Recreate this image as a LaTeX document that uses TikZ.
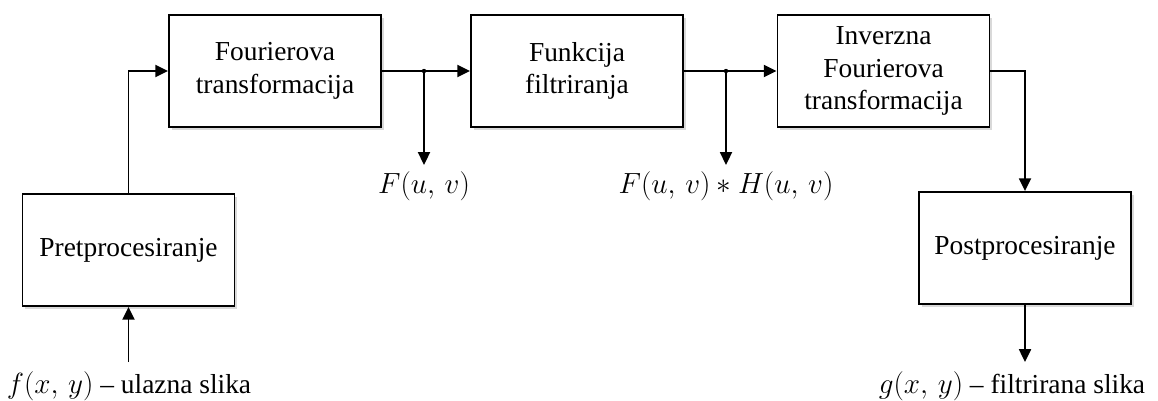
\documentclass[tikz,border=0pt]{standalone}
\usepackage{fontspec}
\setmainfont{Liberation Serif}
\usetikzlibrary{arrows.meta,shadows}

\tikzset{
	block/.style={draw, line width=1.3pt, fill=white, align=center,
		minimum width=5.3cm, minimum height=2.8cm,
		font=\fontsize{19.5}{23}\selectfont,
		drop shadow={shadow xshift=0.07cm, shadow yshift=-0.07cm, opacity=0.3}},
	flow/.style={line width=1.3pt, -{Triangle[length=0.32cm,width=0.3cm]}},
	signal/.style={font=\fontsize{19.5}{23}\selectfont, inner sep=1pt},
}

\begin{document}
\begin{tikzpicture}[x=0.025cm, y=-0.025cm]

	\useasboundingbox (0,0) rectangle (1158,401);

	% Blocks
	\node[block] (pre)     at (128.5,250) {Pretprocesiranje};
	\node[block] (fourier) at (275,71)    {Fourierova\\transformacija};
	\node[block] (filter)  at (577,71)    {Funkcija\\filtriranja};
	\node[block] (inverse) at (883.5,71)  {Inverzna\\Fourierova\\transformacija};
	\node[block] (post)    at (1025,248)  {Postprocesiranje};

	% Signals
	\coordinate (in)   at (128.5,362);
	\coordinate (out)  at (1025,362);
	\coordinate (tapF) at (424,71);
	\coordinate (tapH) at (726,71);

	\node[signal] (inLabel)  at (129,386)  {$f(x,\,y)$ -- ulazna slika};
	\node[signal] (outLabel) at (1012,386) {$g(x,\,y)$ -- filtrirana slika};
	\node[signal] (Fuv)      at (424,186)  {$F(u,\,v)$};
	\node[signal] (FHuv)     at (726,186)  {$F(u,\,v)\ast H(u,\,v)$};

	% Connectors
	\draw[flow] (in) -- (pre.south);
	\draw[flow] (pre.north) |- (fourier.west);
	\draw[flow] (fourier.east) -- (filter.west);
	\draw[flow] (filter.east) -- (inverse.west);
	\draw[flow] (inverse.east) -| (post.north);
	\draw[flow] (post.south) -- (out);

	\foreach \tap/\lab in {tapF/Fuv, tapH/FHuv} {
		\fill (\tap) circle (2.2);
		\draw[flow] (\tap) -- ([yshift=0.12cm]\lab.north);
	}

\end{tikzpicture}
\end{document}
